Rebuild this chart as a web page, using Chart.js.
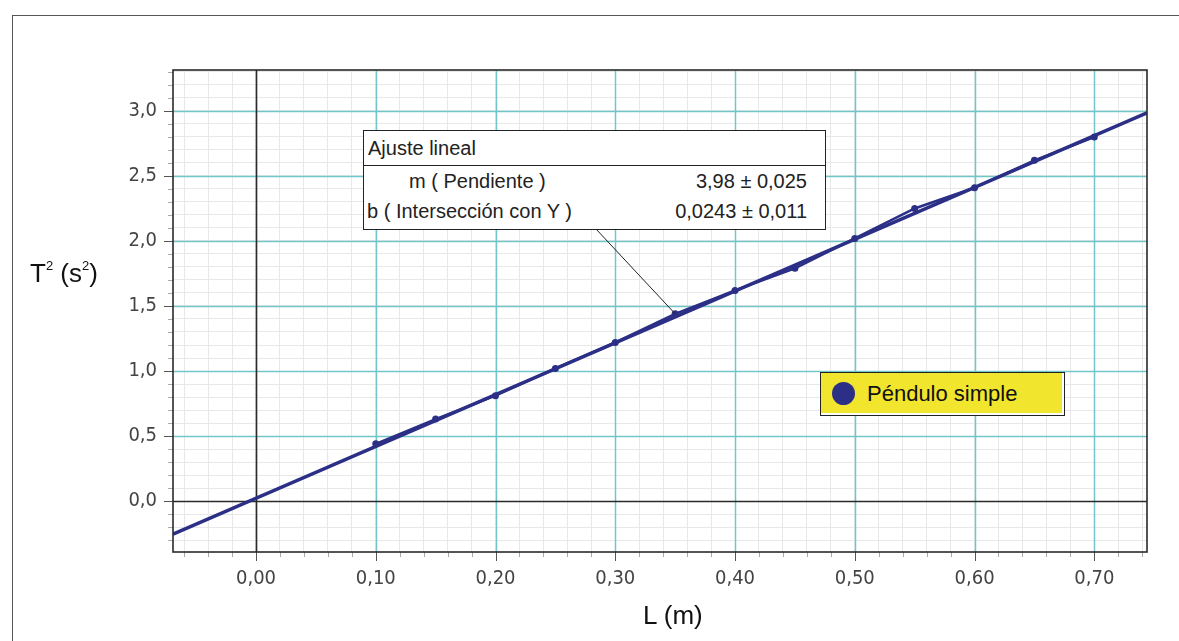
<!DOCTYPE html>
<html lang="es">
<head>
    <meta charset="UTF-8">
    <title>Péndulo simple - T² vs L</title>
    <style>
        body {
            margin: 0;
            padding: 0;
            background: #fff;
            font-family: "Liberation Sans", Arial, sans-serif;
        }
        #wrap {
            position: relative;
            width: 1179px;
            height: 641px;
            overflow: hidden;
        }
        #frame {
            position: absolute;
            left: 12px;
            top: 15px;
            width: 1200px;
            height: 700px;
            border: 1px solid #555;
        }
        #chart-box {
            position: absolute;
            left: 0;
            top: 0;
            width: 1179px;
            height: 641px;
        }
        .axis-title {
            position: absolute;
            font-size: 26px;
            color: #111;
        }
        .axis-title sup { font-size: 13px; vertical-align: 12px; }
        #fit-box {
            position: absolute;
            left: 363px;
            top: 130px;
            width: 461px;
            height: 98px;
            background: #fff;
            border: 1.5px solid #222;
            font-size: 20px;
            color: #222;
        }
        #fit-box .head {
            height: 34px;
            line-height: 34px;
            padding-left: 4px;
            border-bottom: 1.5px solid #222;
        }
        #fit-box .row {
            position: relative;
            height: 30px;
            line-height: 30px;
        }
        #fit-box .row span.v {
            position: absolute;
            right: 18px;
        }
        #legend-box {
            position: absolute;
            left: 820px;
            top: 372px;
            width: 243px;
            height: 42px;
            background: #f2e52e;
            border: 1.5px solid #222;
            box-shadow: inset -2px -2px 0 #fff;
            font-size: 22px;
            color: #111;
        }
        #legend-box .dot {
            position: absolute;
            left: 11px;
            top: 9px;
            width: 23px;
            height: 23px;
            border-radius: 50%;
            background: #2b2f85;
        }
        #legend-box .txt {
            position: absolute;
            left: 46px;
            top: 8px;
        }
    </style>
    <script src="https://cdn.jsdelivr.net/npm/chart.js"></script>
</head>
<body>
<div id="wrap">
    <div id="frame"></div>
    <div id="chart-box"><canvas id="pendulo"></canvas></div>
    <div class="axis-title" style="left:30px; top:258px;">T<sup>2</sup> (s<sup>2</sup>)</div>
    <div class="axis-title" style="left:643px; top:600px;">L (m)</div>
    <div id="fit-box">
        <div class="head">Ajuste lineal</div>
        <div class="row"><span style="padding-left:45px;">m ( Pendiente )</span><span class="v">3,98 ± 0,025</span></div>
        <div class="row"><span style="padding-left:3px;">b ( Intersección con Y )</span><span class="v">0,0243 ± 0,011</span></div>
    </div>
    <div id="legend-box"><div class="dot"></div><div class="txt">Péndulo simple</div></div>
</div>

<script>
    // Datos medidos: longitud L (m) y periodo al cuadrado T² (s²)
    var lenValues = [0.10, 0.15, 0.20, 0.25, 0.30, 0.35, 0.40, 0.45, 0.50, 0.55, 0.60, 0.65, 0.70];
    var t2Values  = [0.44, 0.63, 0.81, 1.02, 1.22, 1.44, 1.62, 1.79, 2.02, 2.25, 2.41, 2.62, 2.80];

    var fitLen = [-0.0693, 0.744];
    var fitT2  = [-0.254, 2.985];

    // Ejes
    var xMin = -0.0693, xMax = 0.744;
    var yMin = -0.392, yMax = 3.315;
    var xMajorTicks = [0, 0.1, 0.2, 0.3, 0.4, 0.5, 0.6, 0.7];
    var yMajorTicks = [0, 0.5, 1.0, 1.5, 2.0, 2.5, 3.0];
    var xMinorStep = 0.02;
    var yMinorStep = 0.1;

    var navy = '#2b2f85';
    var teal = '#72c6ca';
    var minorGrid = '#e8e8e8';
    var axisDark = '#2a2a2a';

    function isMajor(v, list) {
        return list.some(function (m) { return Math.abs(m - v) < 1e-6; });
    }
    function minorList(min, max, step) {
        var out = [];
        var i0 = Math.ceil(min / step - 1e-9), i1 = Math.floor(max / step + 1e-9);
        for (var i = i0; i <= i1; i++) out.push({ value: Math.round(i * step * 1000) / 1000 });
        return out;
    }

    // rejilla principal (celeste) y ejes en cero, encima de la rejilla menor
    var majorGrid = {
        id: 'majorGrid',
        beforeDatasetsDraw: function (chart) {
            var ctx = chart.ctx, a = chart.chartArea;
            var xs = chart.scales.x, ys = chart.scales.y;
            ctx.save();
            ctx.lineWidth = 1.5;
            ctx.strokeStyle = teal;
            xMajorTicks.forEach(function (v) {
                if (v === 0) return;
                var px = Math.round(xs.getPixelForValue(v)) + 0.5;
                ctx.beginPath(); ctx.moveTo(px, a.top); ctx.lineTo(px, a.bottom); ctx.stroke();
            });
            yMajorTicks.forEach(function (v) {
                if (v === 0) return;
                var py = Math.round(ys.getPixelForValue(v)) + 0.5;
                ctx.beginPath(); ctx.moveTo(a.left, py); ctx.lineTo(a.right, py); ctx.stroke();
            });
            ctx.strokeStyle = axisDark;
            ctx.lineWidth = 1.6;
            var x0 = Math.round(xs.getPixelForValue(0)) + 0.5;
            var y0 = Math.round(ys.getPixelForValue(0)) + 0.5;
            ctx.beginPath(); ctx.moveTo(x0, a.top); ctx.lineTo(x0, a.bottom); ctx.stroke();
            ctx.beginPath(); ctx.moveTo(a.left, y0); ctx.lineTo(a.right, y0); ctx.stroke();
            ctx.restore();
        }
    };

    // marcas de ticks, marco del área y la línea de la etiqueta
    var extras = {
        id: 'extras',
        afterDraw: function (chart) {
            var ctx = chart.ctx, a = chart.chartArea;
            var xs = chart.scales.x, ys = chart.scales.y;
            ctx.save();
            ctx.lineWidth = 1;
            xs.ticks.forEach(function (t) {
                var px = Math.round(xs.getPixelForValue(t.value)) + 0.5;
                var major = isMajor(t.value, xMajorTicks);
                ctx.strokeStyle = major ? '#555' : '#aaa';
                ctx.beginPath(); ctx.moveTo(px, a.bottom); ctx.lineTo(px, a.bottom + (major ? 9 : 5)); ctx.stroke();
            });
            ys.ticks.forEach(function (t) {
                var py = Math.round(ys.getPixelForValue(t.value)) + 0.5;
                var major = isMajor(t.value, yMajorTicks);
                ctx.strokeStyle = major ? '#555' : '#aaa';
                ctx.beginPath(); ctx.moveTo(a.left, py); ctx.lineTo(a.left - (major ? 9 : 5), py); ctx.stroke();
            });
            ctx.strokeStyle = axisDark;
            ctx.lineWidth = 1.6;
            ctx.strokeRect(a.left, a.top, a.right - a.left, a.bottom - a.top);

            // línea desde el cuadro de ajuste hasta el punto L = 0,35
            ctx.strokeStyle = '#222';
            ctx.lineWidth = 1;
            ctx.beginPath();
            ctx.moveTo(596, 229);
            ctx.lineTo(xs.getPixelForValue(lenValues[5]), ys.getPixelForValue(t2Values[5]));
            ctx.stroke();
            ctx.restore();
        }
    };

    var tickFont = { family: '"DejaVu Sans Condensed", "DejaVu Sans", sans-serif', size: 20 };

    new Chart(document.getElementById('pendulo'), {
        type: 'scatter',
        data: {
            datasets: [{
                label: 'Ajuste lineal',
                data: fitLen.map(function (x, i) { return { x: x, y: fitT2[i] }; }),
                showLine: true,
                borderColor: navy,
                borderWidth: 3.5,
                pointRadius: 0
            }, {
                label: 'Péndulo simple',
                data: lenValues.map(function (x, i) { return { x: x, y: t2Values[i] }; }),
                showLine: true,
                borderColor: navy,
                borderWidth: 2.5,
                backgroundColor: navy,
                pointRadius: 3.5,
                pointBorderWidth: 0
            }]
        },
        options: {
            responsive: true,
            maintainAspectRatio: false,
            animation: false,
            layout: { padding: { left: 0, top: 70, right: 32, bottom: 0 } },
            plugins: {
                legend: { display: false },
                tooltip: { enabled: false }
            },
            scales: {
                x: {
                    type: 'linear',
                    min: xMin,
                    max: xMax,
                    afterBuildTicks: function (s) { s.ticks = minorList(xMin, xMax, xMinorStep); },
                    afterFit: function (s) { s.height = 89; },
                    border: { display: false },
                    grid: {
                        color: minorGrid,
                        lineWidth: 1,
                        tickLength: 9,
                        tickColor: 'rgba(0,0,0,0)'
                    },
                    ticks: {
                        autoSkip: false,
                        maxRotation: 0,
                        padding: 6,
                        color: '#444',
                        font: tickFont,
                        callback: function (v) {
                            return isMajor(v, xMajorTicks) ? v.toFixed(2).replace('.', ',') : '';
                        }
                    }
                },
                y: {
                    type: 'linear',
                    min: yMin,
                    max: yMax,
                    afterBuildTicks: function (s) { s.ticks = minorList(yMin, yMax, yMinorStep); },
                    afterFit: function (s) { s.width = 173; },
                    border: { display: false },
                    grid: {
                        color: minorGrid,
                        lineWidth: 1,
                        tickLength: 9,
                        tickColor: 'rgba(0,0,0,0)'
                    },
                    ticks: {
                        autoSkip: false,
                        padding: 7,
                        color: '#444',
                        font: tickFont,
                        callback: function (v) {
                            return isMajor(v, yMajorTicks) ? v.toFixed(1).replace('.', ',') : '';
                        }
                    }
                }
            }
        },
        plugins: [majorGrid, extras]
    });
</script>
</body>
</html>
